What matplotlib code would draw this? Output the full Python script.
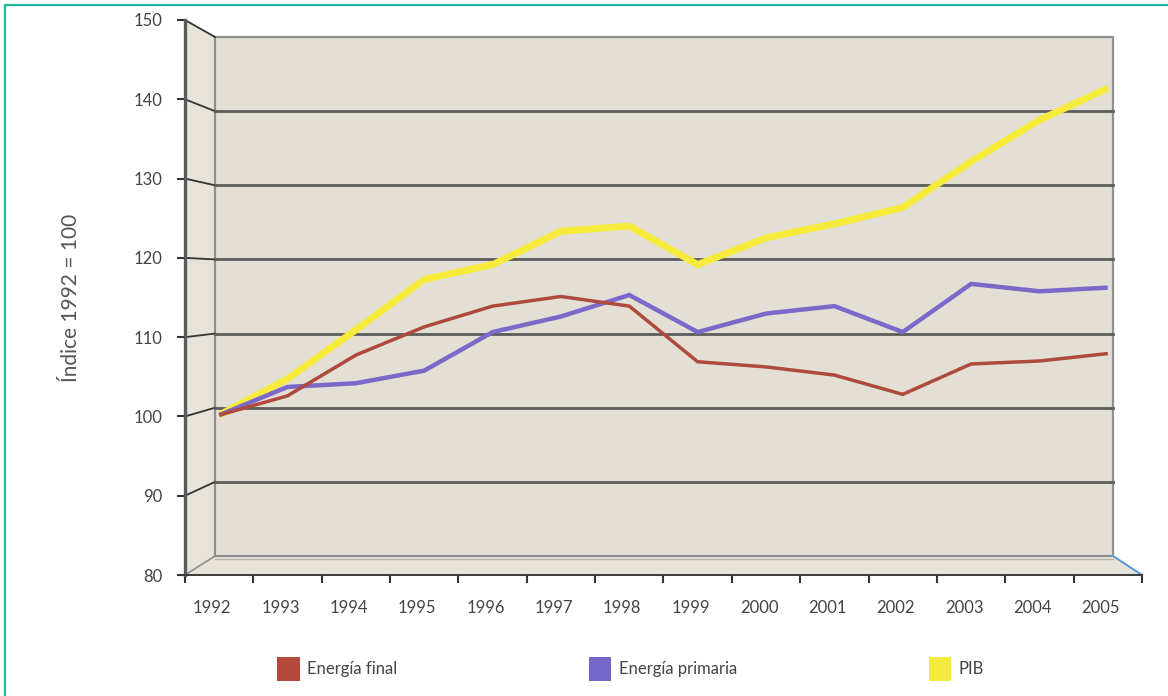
import numpy as np
import matplotlib
matplotlib.use("Agg")
import matplotlib.pyplot as plt
from matplotlib.patches import Polygon, Patch
from matplotlib.transforms import ScaledTranslation

plt.rcParams['font.family'] = ['Lato', 'DejaVu Sans']

# Datos (índice 1992 = 100)
anios = list(range(1992, 2006))
energia_final = [100, 102.6, 108.1, 111.9, 114.7, 116.0, 114.7, 107.2, 106.5, 105.4, 102.8, 106.9, 107.3, 108.3]
energia_primaria = [100, 103.8, 104.3, 106.0, 111.2, 113.3, 116.2, 111.2, 113.7, 114.7, 111.2, 117.7, 116.7, 117.2]
pib = [100, 104.9, 111.5, 118.3, 120.3, 124.8, 125.5, 120.3, 123.9, 125.8, 128.0, 134.2, 139.8, 144.1]
y_ticks = [80, 90, 100, 110, 120, 130, 140, 150]

W, H = 1168, 696
fig = plt.figure(figsize=(W / 100, H / 100), dpi=100)

# geometria del grafico 3D (pixeles)
fx0, fx1 = 185, 1142     # eje frontal
fy_top, fy_bot = 20, 575
bx0, bx1 = 215, 1113     # pared del fondo
by_top, by_bot = 37, 556

wall = '#e4dfd5'
edge = '#8f8f8f'
grid_c = '#5c5c5c'

def yf(v):
    return fy_bot - (v - 80) * (fy_bot - fy_top) / 70

def yb(v):
    return by_bot - (v - 80) * (by_bot - by_top) / 70

# capa de fondo en pixeles
bg = fig.add_axes([0, 0, 1, 1])
bg.set_xlim(0, W)
bg.set_ylim(H, 0)
bg.axis('off')

# marco turquesa
bg.plot([5, 5, W], [H, 5, 5], color='#1fb89b', lw=1.6)

# pared lateral, suelo y pared del fondo
bg.add_patch(Polygon([(fx0, fy_top), (bx0, by_top), (bx0, by_bot), (fx0, fy_bot)],
                     closed=True, fc='#e8e3da', ec='none'))
bg.add_patch(Polygon([(fx0, fy_bot), (bx0, by_bot), (bx1, by_bot), (fx1, fy_bot)],
                     closed=True, fc='#e8e3da', ec='none'))
bg.add_patch(Polygon([(bx0, by_top), (bx1, by_top), (bx1, by_bot), (bx0, by_bot)],
                     closed=True, fc=wall, ec=edge, lw=1.6))
bg.plot([fx0, bx0], [fy_bot, by_bot], color=edge, lw=1.2)
bg.plot([bx0, bx1], [by_bot + 3, by_bot + 3], color='#b5b0a8', lw=1.0)
bg.plot([bx1, fx1], [by_bot, fy_bot], color='#5b9bd5', lw=1.5)

# lineas inclinadas de la pared lateral
for v in y_ticks[1:]:
    bg.plot([fx0, bx0], [yf(v), yb(v)], color='#333333', lw=1.3)

# ejes frontales (etiquetas)
front = fig.add_axes([fx0 / W, 1 - fy_bot / H, (fx1 - fx0) / W, (fy_bot - fy_top) / H])
front.patch.set_alpha(0)
front.set_xlim(1991.5, 2005.5)
front.set_ylim(80, 150)
for s in ['top', 'right']:
    front.spines[s].set_visible(False)
front.spines['left'].set_color('#5a5a5a')
front.spines['left'].set_linewidth(2.4)
front.spines['bottom'].set_color('#3a3a3a')
front.spines['bottom'].set_linewidth(1.4)
front.set_yticks(y_ticks)
front.tick_params(axis='y', direction='out', length=6, width=1.5, color='#333333',
                  pad=10, labelsize=12, labelcolor='#444444')
front.set_xticks(anios)
front.set_xticklabels([str(a) for a in anios])
front.set_xticks(np.arange(1991.5, 2006, 1.0), minor=True)
front.tick_params(axis='x', which='major', length=0, pad=18, labelsize=12, labelcolor='#444444')
front.tick_params(axis='x', which='minor', direction='out', length=6, width=1.5, color='#333333')
shift = ScaledTranslation(-0.07, 0, fig.dpi_scale_trans)
for lab in front.get_xticklabels():
    lab.set_transform(lab.get_transform() + shift)
front.set_ylabel('Índice 1992 = 100', fontsize=15, color='#555555', labelpad=38)

# ejes de datos sobre la pared del fondo
ax = fig.add_axes([fx0 / W, 1 - by_bot / H, (fx1 - fx0) / W, (by_bot - by_top) / H])
ax.patch.set_alpha(0)
ax.set_xlim(1991.5, 2005.5)
ax.set_ylim(80, 150)
ax.axis('off')
g0 = (bx0 - fx0) / (fx1 - fx0)
g1 = (bx1 - fx0) / (fx1 - fx0)
for v in y_ticks[1:-1]:
    ax.axhline(v, xmin=g0, xmax=g1, color=grid_c, lw=2.0, zorder=1)

# profundidad de las series: un poco por delante de la pared
depth = ax.transData + ScaledTranslation(0, -0.074, fig.dpi_scale_trans)
ax.plot(anios, pib, color='#f6ea3a', lw=5.0, transform=depth, zorder=3,
        solid_joinstyle='miter', solid_capstyle='butt')
ax.plot(anios, energia_primaria, color='#7a69c9', lw=3.2, transform=depth, zorder=4,
        solid_joinstyle='miter', solid_capstyle='butt')
ax.plot(anios, energia_final, color='#ad4a3c', lw=2.5, transform=depth, zorder=5,
        solid_joinstyle='miter', solid_capstyle='butt')

# leyenda
handles = [Patch(facecolor='#b5493b', edgecolor='none', label='Energía final'),
           Patch(facecolor='#7466c6', edgecolor='none', label='Energía primaria'),
           Patch(facecolor='#f4ea3e', edgecolor='none', label='PIB')]
fig.legend(handles=handles, loc='center left', bbox_to_anchor=(277 / W, 1 - 669 / H),
           ncol=3, frameon=False, fontsize=12, labelcolor='#444444',
           handlelength=1.35, handleheight=1.75, handletextpad=0.45,
           columnspacing=11.5, borderpad=0, borderaxespad=0)

fig.savefig('out.png', dpi=100)
